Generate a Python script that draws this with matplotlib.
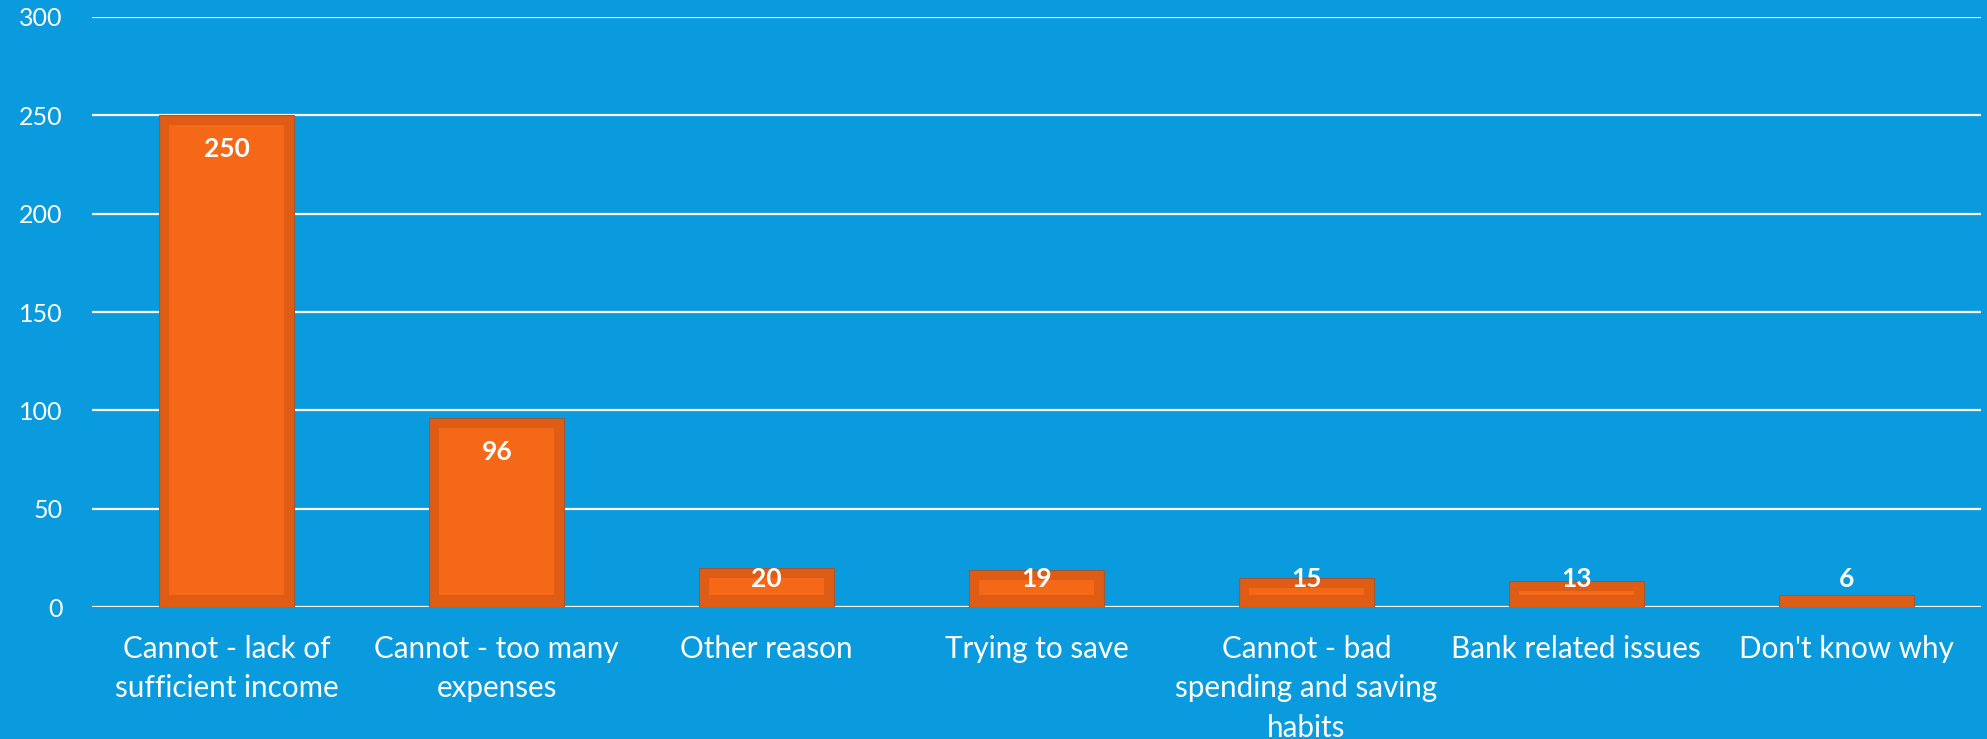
import matplotlib.pyplot as plt

categories = ["Cannot - lack of\nsufficient income", "Cannot - too many\nexpenses", "Other reason",
              "Trying to save", "Cannot - bad\nspending and saving\nhabits", "Bank related issues",
              "Don't know why"]
values = [250, 96, 20, 19, 15, 13, 6]
yticks = [0, 50, 100, 150, 200, 250, 300]

bg = "#0A9BDF"
dark = "#DE5C14"
light = "#F46817"

plt.rcParams["font.family"] = ["Lato", "DejaVu Sans"]

fig = plt.figure(figsize=(19.87, 7.39), dpi=100, facecolor=bg)
ax = fig.add_axes([0.0463, 0.1786, 0.9507, 0.7984])
ax.set_facecolor(bg)

x = list(range(len(values)))
# barre extérieure foncée
ax.bar(x, values, width=0.5, color=dark, edgecolor="#9A5A3A", linewidth=0.8, zorder=3)

# rectangle intérieur plus clair, en retrait d'environ 10 px
px_x = 1 / 270.0
px_y = 300 / 590.0
inset_x = 10 * px_x
inset_y = 10 * px_y
for xi, v in zip(x, values):
    h = v - 2 * inset_y - 2 * px_y
    if h > 0:
        ax.bar(xi, h, bottom=inset_y + 2 * px_y, width=0.5 - 2 * inset_x, color=light,
               linewidth=0, zorder=4)

# étiquettes de valeur
for xi, v in zip(x, values):
    ax.text(xi, max(v - 17, 14), str(v), ha="center", va="center", color="white",
            fontsize=19, fontweight="bold", zorder=5)

ax.set_xlim(-0.5, len(values) - 0.5)
ax.set_ylim(0, 300)
ax.set_yticks(yticks)
ax.set_xticks(x)
ax.set_xticklabels(categories, fontsize=21.3, color="white", linespacing=1.5)
ax.tick_params(axis="y", labelsize=18, colors="white", length=0, pad=21)
ax.tick_params(axis="x", length=0, pad=20)
ax.grid(axis="y", color="white", linewidth=1.6, zorder=0)
ax.set_axisbelow(True)
for s in ax.spines.values():
    s.set_visible(False)

plt.savefig("out.png", dpi=100, facecolor=bg)
